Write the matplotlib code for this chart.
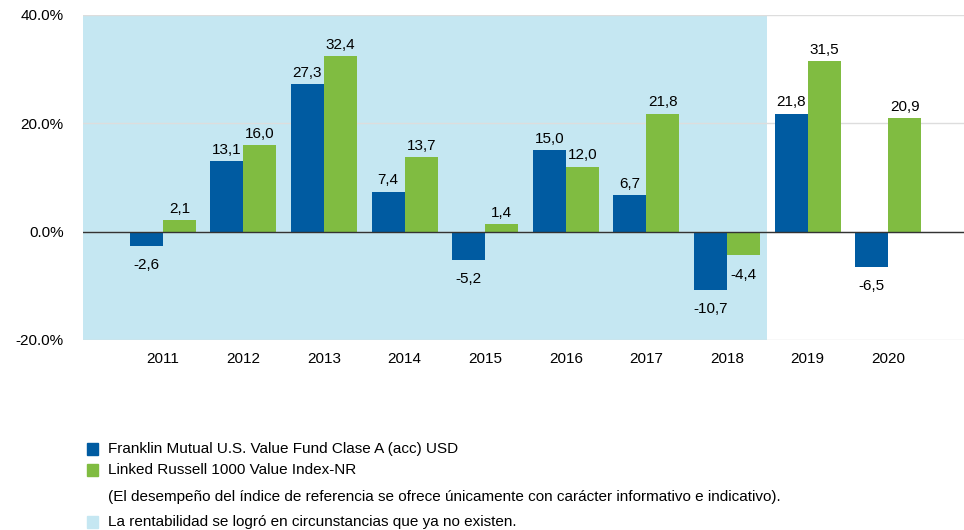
import numpy as np
import matplotlib.pyplot as plt
from matplotlib.patches import Rectangle

plt.rcParams['font.family'] = ['Liberation Sans Narrow', 'Liberation Sans', 'DejaVu Sans']

years = ['2011', '2012', '2013', '2014', '2015', '2016', '2017', '2018', '2019', '2020']
fund = [-2.6, 13.1, 27.3, 7.4, -5.2, 15.0, 6.7, -10.7, 21.8, -6.5]
index = [2.1, 16.0, 32.4, 13.7, 1.4, 12.0, 21.8, -4.4, 31.5, 20.9]
yticks = [-20, 0, 20, 40]
legend_labels = ['Franklin Mutual U.S. Value Fund Clase A (acc) USD',
                 'Linked Russell 1000 Value Index-NR']
note = '(El desempeño del índice de referencia se ofrece únicamente con carácter informativo e indicativo).'
shade_label = 'La rentabilidad se logró en circunstancias que ya no existen.'

blue = '#005BA1'
green = '#80BC41'
shade = '#C5E7F2'

fig = plt.figure(figsize=(9.64, 5.30), dpi=100)
ax = fig.add_axes([0.0861, 0.3585, 0.9139, 0.6132])

x = np.arange(len(years))
w = 0.41
ax.axvspan(-1.0, 7.5, color=shade, zorder=0, lw=0)
ax.bar(x - w / 2, fund, w, color=blue, zorder=2)
ax.bar(x + w / 2, index, w, color=green, zorder=2)

def fmt(v):
    return ('%.1f' % v).replace('.', ',')

for xs, vals in ((x - w / 2, fund), (x + w / 2, index)):
    for xi, v in zip(xs, vals):
        if v >= 0:
            ax.annotate(fmt(v), (xi, v), xytext=(0, 3), textcoords='offset points',
                        ha='center', va='bottom', fontsize=11)
        else:
            ax.annotate(fmt(v), (xi, v), xytext=(0, -9), textcoords='offset points',
                        ha='center', va='top', fontsize=11)

ax.axhline(0, color='#333333', lw=1, zorder=3)
ax.set_ylim(-20, 40)
ax.set_xlim(-0.99, 9.94)
ax.set_yticks(yticks)
ax.set_yticklabels(['%.1f%%' % t for t in yticks], fontsize=11)
ax.set_xticks(x)
ax.set_xticklabels(years, fontsize=11)
ax.tick_params(length=0)
ax.tick_params(axis='x', pad=9)
ax.tick_params(axis='y', pad=14)
ax.yaxis.grid(True, color='#DDDDDD', lw=1)
ax.set_axisbelow(True)
for s in ax.spines.values():
    s.set_visible(False)

# legend drawn by hand at the bottom
rows = [(449, blue, legend_labels[0]), (470, green, legend_labels[1]),
        (497, None, note), (522, shade, shade_label)]
for ypix, col, txt in rows:
    yf = 1 - ypix / 530
    if col is not None:
        fig.patches.append(Rectangle((87 / 964, yf - 6 / 530), 11 / 964, 12 / 530,
                                     color=col, transform=fig.transFigure, figure=fig))
    fig.text(108 / 964, yf, txt, fontsize=11, va='center', ha='left')

fig.savefig('out.png', dpi=100)
